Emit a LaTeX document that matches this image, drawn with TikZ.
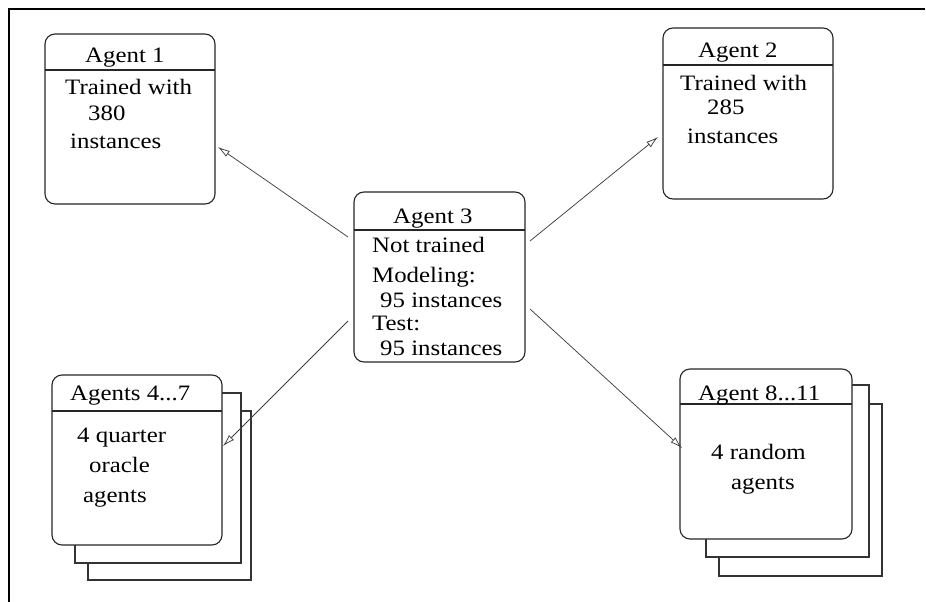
\documentclass[tikz,border=0pt]{standalone}
\usepackage{fontspec}
\setmainfont{Liberation Serif}[FakeStretch=1.13]
\usetikzlibrary{arrows.meta}

\tikzset{
  agentbox/.style={draw=black!85, line width=1.1pt, rounded corners=10pt, fill=white},
  backsheet/.style={draw=black!80, line width=1.1pt, fill=white},
  headline/.style={draw=black!85, line width=1.1pt},
  txt/.style={anchor=base west, inner sep=0pt, font=\fontsize{22}{26}\selectfont},
  link/.style={draw=black!75, line width=0.75pt, -{Latex[open,length=12pt,width=7pt]}},
  frameline/.style={draw=black, line width=1.1pt}
}

\begin{document}
\begin{tikzpicture}[x=1pt, y=-1pt]
\useasboundingbox (0,0) rectangle (926,602);

% outer frame (top and left edges)
\coordinate (fTL) at (9,9);
\coordinate (fTR) at (925,9);
\coordinate (fBL) at (9,602);
\draw[frameline] (fTR) -- (fTL) -- (fBL);

% Agent 1
\draw[agentbox] (45,34) rectangle (215,204);
\draw[headline] (45,70) -- (215,70);
\node[txt] (a1h) at (85,63) {Agent 1};
\node[txt] (a1l1) at (65,95) {Trained with};
\node[txt] (a1l2) at (88,120) {380};
\node[txt] (a1l3) at (70,148) {instances};

% Agent 2
\draw[agentbox] (663,28) rectangle (833,199);
\draw[headline] (663,65) -- (833,65);
\node[txt] (a2h) at (698,58) {Agent 2};
\node[txt] (a2l1) at (680,90) {Trained with};
\node[txt] (a2l2) at (707,114) {285};
\node[txt] (a2l3) at (687,143) {instances};

% Agent 3
\draw[agentbox] (354,192) rectangle (525,362);
\draw[headline] (354,230) -- (525,230);
\node[txt] (a3h) at (393,223) {Agent 3};
\node[txt] (a3l1) at (372,252) {Not trained};
\node[txt] (a3l2) at (372,282) {Modeling:};
\node[txt] (a3l3) at (380,307) {95 instances};
\node[txt] (a3l4) at (372,330) {Test:};
\node[txt] (a3l5) at (380,355) {95 instances};

% Agents 4...7 (stacked sheets)
\draw[backsheet] (88,411) rectangle (251,580);
\draw[backsheet] (75,393) rectangle (241,563);
\draw[agentbox] (52,375) rectangle (222,545);
\draw[headline] (52,411) -- (222,411);
\node[txt] (a4h) at (70,400) {Agents 4...7};
\node[txt] (a4l1) at (77,442) {4 quarter};
\node[txt] (a4l2) at (89,472) {oracle};
\node[txt] (a4l3) at (83,502) {agents};

% Agent 8...11 (stacked sheets)
\draw[backsheet] (719,404) rectangle (882,576);
\draw[backsheet] (706,385) rectangle (869,557);
\draw[agentbox] (680,369) rectangle (852,539);
\draw[headline] (680,404) -- (852,404);
\node[txt] (a8h) at (698,400) {Agent 8...11};
\node[txt] (a8l1) at (711,459) {4 random};
\node[txt] (a8l2) at (731,489) {agents};

% connector end points
\coordinate (s1) at (348,237);
\coordinate (e1) at (218,147);
\coordinate (s2) at (530,241);
\coordinate (e2) at (658,137);
\coordinate (s4) at (348,321);
\coordinate (e4) at (223,446);
\coordinate (s8) at (530,309);
\coordinate (e8) at (682,448);

\draw[link] (s1) -- (e1);
\draw[link] (s2) -- (e2);
\draw[link] (s4) -- (e4);
\draw[link] (s8) -- (e8);
\end{tikzpicture}
\end{document}
